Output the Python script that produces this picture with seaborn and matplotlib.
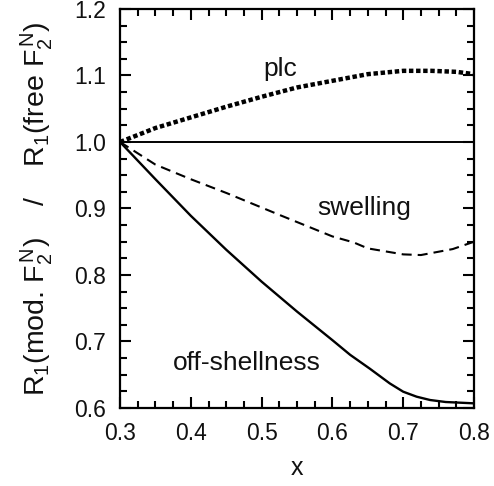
import numpy as np
import pandas as pd
import matplotlib
matplotlib.use("Agg")
import matplotlib.pyplot as plt
import seaborn as sns
from matplotlib.ticker import MultipleLocator, FormatStrFormatter

# ---- data ----
x_plc = [0.30, 0.35, 0.40, 0.45, 0.50, 0.55, 0.60, 0.65, 0.70, 0.74, 0.775, 0.80]
y_plc = [1.000, 1.021, 1.037, 1.053, 1.068, 1.082, 1.092, 1.102, 1.107, 1.107, 1.1055, 1.102]

x_swell = [0.30, 0.35, 0.40, 0.451, 0.526, 0.60, 0.63, 0.65, 0.70, 0.725, 0.77, 0.80]
y_swell = [1.000, 0.966, 0.944, 0.923, 0.890, 0.858, 0.849, 0.840, 0.831, 0.830, 0.839, 0.850]

x_off = [0.30, 0.35, 0.40, 0.45, 0.50, 0.55, 0.60, 0.625, 0.653, 0.681, 0.700, 0.719, 0.738, 0.760, 0.80]
y_off = [1.000, 0.944, 0.889, 0.838, 0.790, 0.745, 0.702, 0.680, 0.659, 0.637, 0.6245, 0.617, 0.612, 0.609, 0.607]

x_ref = [0.30, 0.80]
y_ref = [1.0, 1.0]

labels = ["plc", "swelling", "off-shellness"]
label_pos = [(0.526, 1.110), (0.645, 0.901), (0.479, 0.667)]

sns.set_theme(style="ticks")
plt.rcParams['font.family'] = ['Liberation Sans', 'DejaVu Sans']
plt.rcParams['mathtext.fontset'] = 'custom'
plt.rcParams['mathtext.rm'] = 'Liberation Sans'
plt.rcParams['mathtext.it'] = 'Liberation Sans'
plt.rcParams['mathtext.bf'] = 'Liberation Sans'

fig = plt.figure(figsize=(4.94, 4.86), dpi=100)
ax = fig.add_axes([0.243, 0.1605, 0.7165, 0.821])

sns.lineplot(x=x_ref, y=y_ref, ax=ax, color='black', linewidth=1.4)
sns.lineplot(x=x_off, y=y_off, ax=ax, color='black', linewidth=1.7)
sns.lineplot(x=x_swell, y=y_swell, ax=ax, color='black', linewidth=1.5,
             linestyle=(0, (4.8, 2.9)))
sns.lineplot(x=x_plc, y=y_plc, ax=ax, color='black', linewidth=3.2,
             linestyle=(0, (1.0, 0.6)))

for t, (tx, ty) in zip(labels, label_pos):
    ax.text(tx, ty, t, ha='center', va='center', fontsize=19, color='#111111')

ax.set_xlim(0.3, 0.8)
ax.set_ylim(0.6, 1.2)
ax.xaxis.set_major_locator(MultipleLocator(0.1))
ax.xaxis.set_minor_locator(MultipleLocator(0.025))
ax.yaxis.set_major_locator(MultipleLocator(0.1))
ax.yaxis.set_minor_locator(MultipleLocator(0.025))
ax.xaxis.set_major_formatter(FormatStrFormatter('%.1f'))
ax.yaxis.set_major_formatter(FormatStrFormatter('%.1f'))

ax.tick_params(which='both', direction='in', top=True, right=True,
               width=1.5, color='black', labelsize=16.5, labelcolor='#111111')
ax.tick_params(which='major', length=8)
ax.tick_params(which='minor', length=5)
ax.tick_params(axis='x', which='major', pad=10)
ax.tick_params(axis='y', which='major', pad=10)
for s in ax.spines.values():
    s.set_linewidth(1.6)
    s.set_color('black')
    s.set_visible(True)

ax.set_xlabel('x', fontsize=18, color='#111111', labelpad=8)
ax.set_ylabel(r'R$_1$(mod. F$_2^{\,N}$)    /    R$_1$(free F$_2^{\,N}$)',
              fontsize=20.5, color='#111111', labelpad=14)

fig.savefig('out.png', dpi=100)
